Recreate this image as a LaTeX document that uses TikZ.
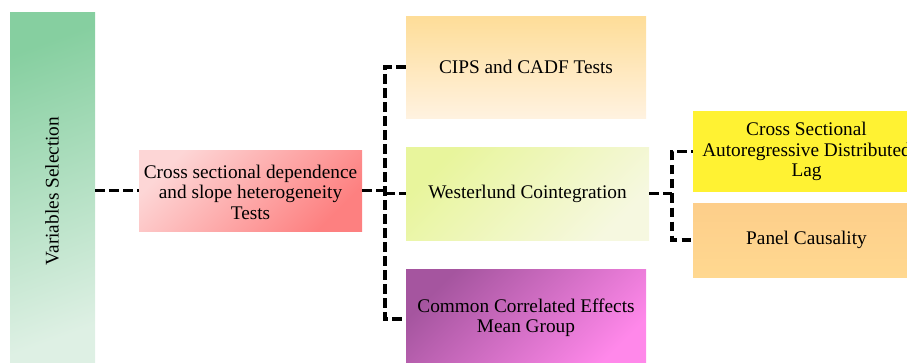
\documentclass[tikz,border=0pt]{standalone}
\usepackage{fontspec}
\setmainfont{Liberation Serif}
\begin{document}
\begin{tikzpicture}[x=1pt,y=-1pt,
  txt/.style={font=\rmfamily\fontsize{19.3}{20.5}\selectfont,text=black},
  box/.style={rectangle,inner sep=0pt,align=center,txt},
  conn/.style={draw=black,line width=3.3pt,dash pattern=on 9.5pt off 4.5pt}]
\useasboundingbox (0,0) rectangle (907,362);
\clip (0,0) rectangle (907,362);
% nodes
\node[box,minimum width=85pt,minimum height=356pt,
  top color={rgb,255:red,134;green,207;blue,160},bottom color={rgb,255:red,222;green,240;blue,228},
  shading angle=20] (vs) at (52.5,190) {};
\node[txt,rotate=90] (vst) at (52,191) {Variables Selection};
\node[box,minimum width=223pt,minimum height=81pt,
  top color={rgb,255:red,253;green,214;blue,214},bottom color={rgb,255:red,253;green,128;blue,128},
  shading angle=45] (cs) at (250.5,190.5) {};
\node[box] (cst) at (250.5,192) {Cross sectional dependence\\and slope heterogeneity\\Tests};
\node[box,minimum width=240pt,minimum height=102pt,
  top color={rgb,255:red,254;green,221;blue,152},bottom color={rgb,255:red,255;green,242;blue,224}] (cips) at (526,67) {CIPS and CADF Tests};
\node[box,minimum width=243pt,minimum height=93pt,
  top color={rgb,255:red,232;green,245;blue,156},bottom color={rgb,255:red,246;green,248;blue,224},
  shading angle=45] (west) at (527.5,193.5) {Westerlund Cointegration};
\node[box,minimum width=240pt,minimum height=100pt,
  top color={rgb,255:red,165;green,85;blue,159},bottom color={rgb,255:red,255;green,136;blue,234},
  shading angle=45] (ccemg) at (526,319) {};
\node[box] (ccemgt) at (526,318) {Common Correlated Effects\\Mean Group};
\node[box,minimum width=227pt,minimum height=81pt,fill={rgb,255:red,255;green,242;blue,51}] (ardl) at (806.5,151.5) {Cross Sectional\\Autoregressive Distributed\\Lag};
\node[box,minimum width=227pt,minimum height=74pt,
  top color={rgb,255:red,253;green,206;blue,138},bottom color={rgb,255:red,255;green,216;blue,144}] (pc) at (806.5,240) {Panel Causality};
% connectors
\coordinate (b1) at (385,0);
\coordinate (b2) at (672,0);
\draw[conn] (vs.east |- cs.west) -- (cs.west);
\draw[conn] (cs.east) -- (cs.east -| b1);
\draw[conn] (cips.west) -- (cips.west -| b1) -- (ccemg.west -| b1) -- (ccemg.west);
\draw[conn] (b1 |- west.west) -- (west.west);
\draw[conn] (west.east) -- (west.east -| b2) -- (b2 |- ardl.west) -- (ardl.west);
\draw[conn] (west.east -| b2) -- (b2 |- pc.west) -- (pc.west);
\end{tikzpicture}
\end{document}
